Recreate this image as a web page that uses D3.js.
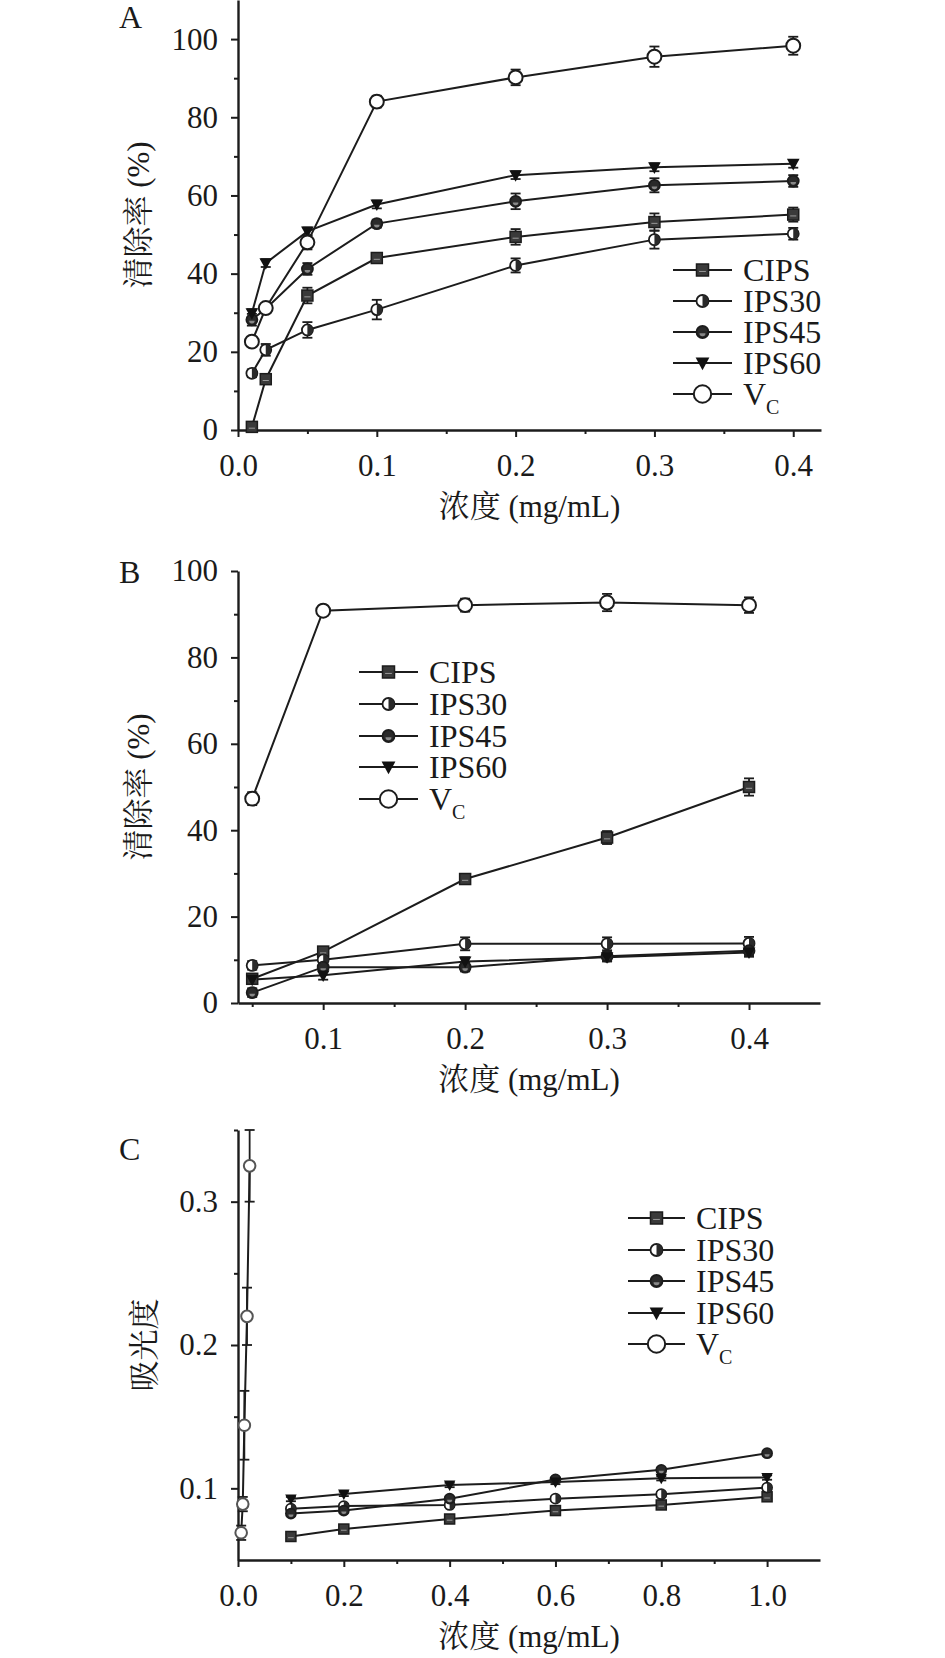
<!DOCTYPE html>
<html><head><meta charset="utf-8">
<script src="https://cdn.jsdelivr.net/npm/d3@7"></script>
<style>
body{margin:0;background:#fff;}
svg text{font-family:"Liberation Serif","Noto Serif CJK SC",serif;fill:#1a1a1a;}
</style></head><body>
<svg id="chart" width="945" height="1658"></svg>
<script>
// ---------- DATA ----------
const seriesNames = ["CIPS","IPS30","IPS45","IPS60","VC"];

// Panel A (清除率 %)
const A_x = [0.01,0.02,0.05,0.1,0.2,0.3,0.4];
const A_CIPS  = [0.8,13.0,34.4,44.0,49.4,53.2,55.1];
const A_IPS30 = [14.5,20.5,25.6,30.8,42.1,48.7,50.2];
const A_IPS45 = [28.2,31.0,41.2,52.8,58.5,62.6,63.7];
const A_IPS60 = [29.9,42.7,50.8,57.7,65.2,67.2,68.1];
const A_VC    = [22.6,31.2,48.0,84.0,90.2,95.5,98.3];
const A_CIPS_err  = [0.6,1.0,2.0,1.0,2.0,2.2,1.8];
const A_IPS30_err = [1.0,1.5,2.0,2.5,1.8,2.3,1.5];
const A_IPS45_err = [1.5,1.0,1.5,1.0,2.0,1.8,1.5];
const A_IPS60_err = [1.0,1.0,1.0,1.0,1.0,1.0,1.0];
const A_VC_err    = [1.0,1.0,1.8,1.5,2.0,2.6,2.3];
const A_xTicks = [0,0.1,0.2,0.3,0.4];
const A_yTicks = [0,20,40,60,80,100];

// Panel B (清除率 %)
const B_x = [0.05,0.1,0.2,0.3,0.4];
const B_CIPS  = [5.6,11.9,28.7,38.3,50.0];
const B_IPS30 = [8.7,10.0,13.7,13.7,13.8];
const B_IPS45 = [2.4,8.3,8.3,10.8,12.1];
const B_IPS60 = [5.4,6.4,9.6,10.6,11.7];
const B_VC    = [47.3,90.8,92.1,92.7,92.1];
const B_CIPS_err  = [1.0,1.0,1.0,1.5,2.0];
const B_IPS30_err = [1.0,1.0,1.5,1.5,1.5];
const B_IPS45_err = [1.0,1.0,1.0,1.0,1.0];
const B_IPS60_err = [1.0,1.0,1.0,1.0,1.0];
const B_VC_err    = [1.5,1.2,1.5,2.0,1.8];
const B_xTicks = [0.1,0.2,0.3,0.4];
const B_yTicks = [0,20,40,60,80,100];

// Panel C (吸光度)
const C_x = [0.1,0.2,0.4,0.6,0.8,1.0];
const C_CIPS  = [0.0664,0.0716,0.0786,0.0845,0.0884,0.0941];
const C_IPS30 = [0.0858,0.0876,0.0884,0.0928,0.0959,0.1005];
const C_IPS45 = [0.0824,0.0845,0.0928,0.1062,0.1129,0.1245];
const C_IPS60 = [0.0925,0.0961,0.1023,0.1044,0.1070,0.1075];
const C_VC_x  = [0.006,0.009,0.012,0.017,0.022];
const C_VC    = [0.069,0.089,0.144,0.220,0.325];
const C_small_err = [0.0015,0.0015,0.0015,0.0015,0.0015,0.0015];
const C_VC_err = [0.005,0.005,0.024,0.020,0.025];
const C_xTicks = [0,0.2,0.4,0.6,0.8,1.0];
const C_yTicks = [0.1,0.2,0.3];

// ---------- DRAWING ----------
const svg = d3.select("#chart");
const INK = "#1c1c1c";
const FONT = "'Liberation Serif','Noto Serif CJK SC',serif";

function marker(g, type, cx, cy, s, gray) {
  const stroke = gray ? "#444" : INK;
  if (type === "CIPS") {
    g.append("rect").attr("x", cx - s*0.5).attr("y", cy - s*0.5).attr("width", s).attr("height", s)
      .attr("fill", "#3a3a3a").attr("stroke", stroke).attr("stroke-width", 1.5);
    g.append("line").attr("x1", cx - s*0.28).attr("x2", cx + s*0.28).attr("y1", cy + s*0.12).attr("y2", cy + s*0.12)
      .attr("stroke", "#999").attr("stroke-width", 1);
  } else if (type === "IPS30") {
    const r = s*0.5;
    g.append("circle").attr("cx", cx).attr("cy", cy).attr("r", r).attr("fill", "#fff").attr("stroke", stroke).attr("stroke-width", 1.8);
    g.append("path").attr("d", `M${cx},${cy-r}A${r},${r} 0 0 1 ${cx},${cy+r}Z`).attr("fill", "#2a2a2a");
  } else if (type === "IPS45") {
    const r = s*0.5;
    g.append("circle").attr("cx", cx).attr("cy", cy).attr("r", r).attr("fill", "#2a2a2a").attr("stroke", stroke).attr("stroke-width", 1.8);
    g.append("path").attr("d", `M${cx-r*0.5},${cy+r*0.2}A${r*0.5},${r*0.5} 0 0 0 ${cx+r*0.5},${cy+r*0.2}Z`).attr("fill", "#888");
  } else if (type === "IPS60") {
    const h = s*1.0, w = s*1.15;
    g.append("path").attr("d", `M${cx-w/2},${cy-h*0.45}L${cx+w/2},${cy-h*0.45}L${cx},${cy+h*0.6}Z`).attr("fill", "#111");
  } else {
    g.append("circle").attr("cx", cx).attr("cy", cy).attr("r", s*0.58).attr("fill", "#fff")
      .attr("stroke", gray ? "#555" : INK).attr("stroke-width", 2);
  }
}

function drawPanel(cfg) {
  const g = svg.append("g");
  const x = d3.scaleLinear().domain(cfg.xDomain).range(cfg.xRange);
  const y = d3.scaleLinear().domain(cfg.yDomain).range(cfg.yRange);

  // minor ticks
  g.append("g").attr("transform", `translate(0,${cfg.yRange[0]})`)
    .call(d3.axisBottom(x).tickValues(cfg.xMinor).tickSize(4).tickSizeOuter(0).tickFormat(""))
    .call(a => a.select(".domain").remove());
  g.append("g").attr("transform", `translate(${cfg.xRange[0]},0)`)
    .call(d3.axisLeft(y).tickValues(cfg.yMinor).tickSize(4).tickSizeOuter(0).tickFormat(""))
    .call(a => a.select(".domain").remove());

  // major axes
  const xa = g.append("g").attr("transform", `translate(0,${cfg.yRange[0]})`)
    .call(d3.axisBottom(x).tickValues(cfg.xTicks).tickSize(7).tickPadding(17).tickSizeOuter(0).tickFormat(cfg.xFmt));
  const ya = g.append("g").attr("transform", `translate(${cfg.xRange[0]},0)`)
    .call(d3.axisLeft(y).tickValues(cfg.yTicks).tickSize(7).tickPadding(13).tickSizeOuter(0).tickFormat(cfg.yFmt));
  [xa, ya].forEach(a => {
    a.attr("font-family", FONT);
    a.selectAll("text").style("font-family", FONT).style("font-size", "31px").attr("fill", INK);
    a.selectAll("line").attr("stroke", INK).attr("stroke-width", 2);
    a.select(".domain").attr("stroke", INK).attr("stroke-width", 2.4);
  });
  g.selectAll(".tick line").attr("stroke", INK).attr("stroke-width", 2);

  // series lines
  cfg.series.forEach(s => {
    const pts = s.x.map((xv, i) => ({x: xv, y: s.y[i], e: s.err[i]}));
    g.append("path").datum(pts)
      .attr("d", d3.line().x(d => x(d.x)).y(d => y(d.y)))
      .attr("fill", "none").attr("stroke", INK).attr("stroke-width", 2);
  });
  // error bars
  cfg.series.forEach(s => {
    const pts = s.x.map((xv, i) => ({x: xv, y: s.y[i], e: s.err[i]}));
    const eg = g.append("g").attr("stroke", INK).attr("stroke-width", 1.8);
    pts.forEach(d => {
      const cx = x(d.x), y1 = y(d.y + d.e), y2 = y(d.y - d.e);
      eg.append("line").attr("x1", cx).attr("x2", cx).attr("y1", y1).attr("y2", y2);
      eg.append("line").attr("x1", cx - 5).attr("x2", cx + 5).attr("y1", y1).attr("y2", y1);
      eg.append("line").attr("x1", cx - 5).attr("x2", cx + 5).attr("y1", y2).attr("y2", y2);
    });
  });
  // markers
  cfg.series.forEach(s => {
    const mg = g.append("g");
    s.x.forEach((xv, i) => marker(mg, s.name, x(xv), y(s.y[i]), s.name === "VC" ? cfg.vcSize : cfg.mSize, cfg.gray && s.name === "VC"));
  });

  // legend
  const lg = g.append("g");
  cfg.legendRows.forEach((ry, i) => {
    const name = seriesNames[i];
    lg.append("line").attr("x1", cfg.legendX[0]).attr("x2", cfg.legendX[1]).attr("y1", ry).attr("y2", ry)
      .attr("stroke", INK).attr("stroke-width", 2);
    marker(lg, name, (cfg.legendX[0] + cfg.legendX[1]) / 2, ry, name === "VC" ? cfg.legVcSize : cfg.legSize, false);
    const t = lg.append("text").attr("x", cfg.legendX[1] + 11).attr("y", ry + 11)
      .style("font-family", FONT).style("font-size", "32px");
    if (name === "VC") {
      t.append("tspan").text("V");
      t.append("tspan").attr("dy", 9).style("font-size", "20px").text("C");
    } else t.text(name);
  });

  // titles
  g.append("text").attr("x", (cfg.xRange[0] + cfg.xRange[1]) / 2).attr("y", cfg.yRange[0] + 87)
    .attr("text-anchor", "middle").style("font-family", FONT).style("font-size", "31px").text("浓度 (mg/mL)");
  g.append("text").attr("transform", `translate(${cfg.yTitleX},${(cfg.yRange[0] + cfg.yRange[1]) / 2}) rotate(-90)`)
    .attr("text-anchor", "middle").attr("dominant-baseline", "central")
    .style("font-family", FONT).style("font-size", "31px").text(cfg.yTitle);
  g.append("text").attr("x", 119).attr("y", cfg.letterY).style("font-family", FONT).style("font-size", "32px").text(cfg.letter);
}

drawPanel({
  letter: "A", letterY: 28, yTitle: "清除率 (%)", yTitleX: 138,
  xDomain: [0, 0.42], xRange: [238, 821], yDomain: [0, 110], yRange: [430, 0],
  xTicks: A_xTicks, xMinor: [0.05,0.15,0.25,0.35], yTicks: A_yTicks, yMinor: [10,30,50,70,90],
  xFmt: d3.format(".1f"), yFmt: d3.format("d"),
  mSize: 11, vcSize: 12, legSize: 12, legVcSize: 15, gray: false,
  legendX: [673, 732], legendRows: [270, 301, 332, 363, 394],
  series: [
    {name: "CIPS", x: A_x, y: A_CIPS, err: A_CIPS_err},
    {name: "IPS30", x: A_x, y: A_IPS30, err: A_IPS30_err},
    {name: "IPS45", x: A_x, y: A_IPS45, err: A_IPS45_err},
    {name: "IPS60", x: A_x, y: A_IPS60, err: A_IPS60_err},
    {name: "VC", x: A_x, y: A_VC, err: A_VC_err}
  ]
});

drawPanel({
  letter: "B", letterY: 583, yTitle: "清除率 (%)", yTitleX: 138,
  xDomain: [0.04, 0.45], xRange: [238, 820], yDomain: [0, 100], yRange: [1003, 571],
  xTicks: B_xTicks, xMinor: [0.05,0.15,0.25,0.35], yTicks: B_yTicks, yMinor: [10,30,50,70,90],
  xFmt: d3.format(".1f"), yFmt: d3.format("d"),
  mSize: 11, vcSize: 12, legSize: 12, legVcSize: 15, gray: false,
  legendX: [359, 418], legendRows: [672, 704, 736, 767, 799],
  series: [
    {name: "CIPS", x: B_x, y: B_CIPS, err: B_CIPS_err},
    {name: "IPS30", x: B_x, y: B_IPS30, err: B_IPS30_err},
    {name: "IPS45", x: B_x, y: B_IPS45, err: B_IPS45_err},
    {name: "IPS60", x: B_x, y: B_IPS60, err: B_IPS60_err},
    {name: "VC", x: B_x, y: B_VC, err: B_VC_err}
  ]
});

drawPanel({
  letter: "C", letterY: 1160, yTitle: "吸光度", yTitleX: 144,
  xDomain: [0, 1.1], xRange: [238, 820], yDomain: [0.05, 0.35], yRange: [1560, 1130],
  xTicks: C_xTicks, xMinor: [0.1,0.3,0.5,0.7,0.9], yTicks: C_yTicks, yMinor: [0.15,0.25,0.35],
  xFmt: d3.format(".1f"), yFmt: d3.format(".1f"),
  mSize: 10, vcSize: 10, legSize: 12, legVcSize: 15, gray: true,
  legendX: [628, 685], legendRows: [1218, 1250, 1281, 1313, 1344],
  series: [
    {name: "CIPS", x: C_x, y: C_CIPS, err: C_small_err},
    {name: "IPS30", x: C_x, y: C_IPS30, err: C_small_err},
    {name: "IPS45", x: C_x, y: C_IPS45, err: C_small_err},
    {name: "IPS60", x: C_x, y: C_IPS60, err: C_small_err},
    {name: "VC", x: C_VC_x, y: C_VC, err: C_VC_err}
  ]
});
</script>
</body></html>
